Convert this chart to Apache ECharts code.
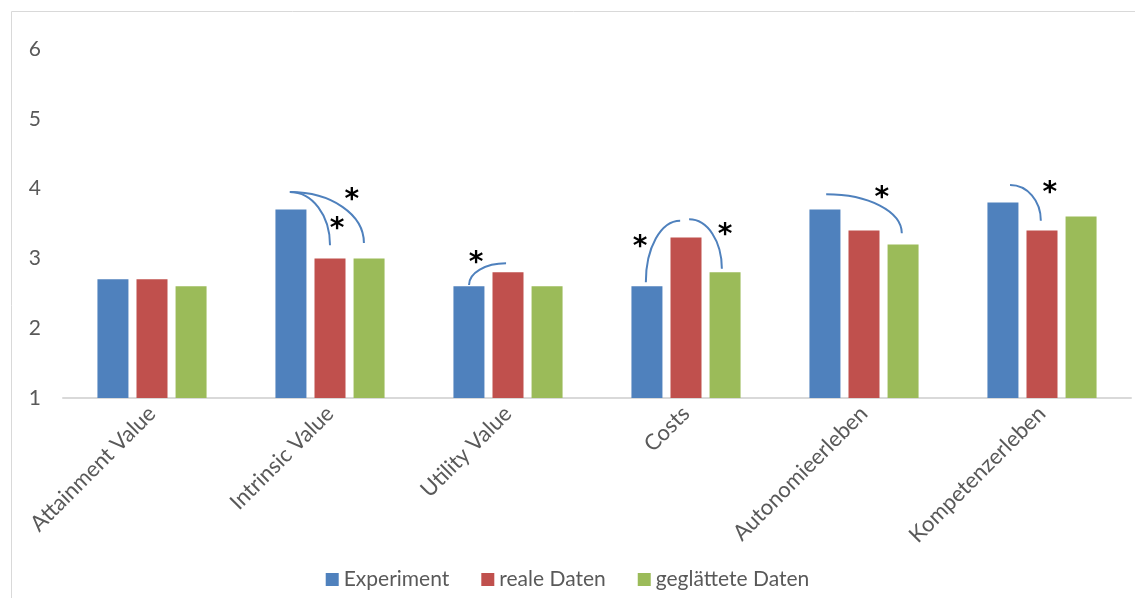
<!DOCTYPE html>
<html>
<head>
<meta charset="utf-8">
<script src="https://cdn.jsdelivr.net/npm/echarts@6/dist/echarts.min.js"></script>
<style>
html,body{margin:0;padding:0;background:#fff;}
#chart{width:1135px;height:598px;}
</style>
</head>
<body>
<div id="chart"></div>
<script>
// ---- data ----
const categories = ['Attainment Value', 'Intrinsic Value', 'Utility Value', 'Costs', 'Autonomieerleben', 'Kompetenzerleben'];
const experiment = [2.7, 3.7, 2.6, 2.6, 3.7, 3.8];
const realeDaten = [2.7, 3.0, 2.8, 3.3, 3.4, 3.4];
const geglaettet = [2.6, 3.0, 2.6, 2.8, 3.2, 3.6];
const yTicks = [1, 2, 3, 4, 5, 6];
const seriesNames = ['Experiment', 'reale Daten', 'geglättete Daten'];
// significance arcs: [category, startSlot, startValue, cornerSlot, cornerValue, endSlot, endValue]
// slot: -1 = Experiment bar, 0 = reale Daten bar, 1 = geglättete Daten bar
const brackets = [
  [1, -1.03, 3.95, 0.0, 3.95, 0.0, 3.19],
  [1, -1.03, 3.95, 0.87, 3.95, 0.87, 3.22],
  [2, -1.0, 2.62, -1.0, 2.93, -0.05, 2.93],
  [3, -1.03, 2.66, -1.03, 3.54, -0.15, 3.54],
  [3, 0.08, 3.56, 0.92, 3.56, 0.92, 2.85],
  [4, -0.97, 3.92, 0.97, 3.92, 0.97, 3.36],
  [5, -0.82, 4.05, -0.03, 4.05, -0.03, 3.54]
];
// asterisks: [category, slot, value]
const stars = [
  [1, 0.18, 3.51],
  [1, 0.56, 3.93],
  [2, -0.82, 3.02],
  [3, -1.18, 3.26],
  [3, 1.0, 3.42],
  [4, 0.46, 3.95],
  [5, 0.2, 4.02]
];

const colors = ['#4F81BD', '#C0504D', '#9BBB59'];
const SLOT = 0.219; // bar pitch as fraction of category band
const FONT = 'Lato, "Open Sans", sans-serif';

const chart = echarts.init(document.getElementById('chart'), null, {renderer: 'canvas'});

function slotPoint(api, cat, slot, v) {
  const c = api.coord([cat, v]);
  const band = api.size([1, 0])[0];
  return [c[0] + slot * SLOT * band, c[1]];
}

const option = {
  animation: false,
  color: colors,
  graphic: [{
    type: 'rect', left: 9, top: 9, z: -10,
    shape: {width: 1200, height: 700},
    style: {fill: 'none', stroke: '#d9d9d9', lineWidth: 1}
  }],
  grid: {left: 63, width: 1068, top: 49, height: 349, containLabel: false},
  legend: {
    data: seriesNames,
    bottom: 3,
    left: 'center',
    itemWidth: 13, itemHeight: 13, itemGap: 32,
    icon: 'rect',
    textStyle: {fontFamily: FONT, fontSize: 21, color: '#595959'}
  },
  xAxis: {
    type: 'category',
    data: categories,
    axisLine: {lineStyle: {color: '#d9d9d9', width: 2}},
    axisTick: {show: false},
    axisLabel: {rotate: 45, margin: 12, fontFamily: FONT, fontSize: 22, color: '#595959', interval: 0}
  },
  yAxis: {
    type: 'value',
    min: yTicks[0], max: yTicks[yTicks.length - 1], interval: 1,
    axisLine: {show: false}, axisTick: {show: false},
    splitLine: {show: false},
    axisLabel: {margin: 22, fontFamily: FONT, fontSize: 21, color: '#595959'}
  },
  series: [
    {name: seriesNames[0], type: 'bar', data: experiment, barWidth: 31, barGap: '26%'},
    {name: seriesNames[1], type: 'bar', data: realeDaten, barWidth: 31, barGap: '26%'},
    {name: seriesNames[2], type: 'bar', data: geglaettet, barWidth: 31, barGap: '26%'},
    {
      type: 'custom', name: 'arcs', silent: true, z: 5,
      data: brackets,
      encode: {x: 0, y: 2},
      renderItem: function (params, api) {
        const cat = api.value(0);
        const p0 = slotPoint(api, cat, api.value(1), api.value(2));
        const pc = slotPoint(api, cat, api.value(3), api.value(4));
        const p3 = slotPoint(api, cat, api.value(5), api.value(6));
        const k = 0.56;
        return {
          type: 'bezierCurve',
          shape: {
            x1: p0[0], y1: p0[1], x2: p3[0], y2: p3[1],
            cpx1: p0[0] + k * (pc[0] - p0[0]), cpy1: p0[1] + k * (pc[1] - p0[1]),
            cpx2: p3[0] + k * (pc[0] - p3[0]), cpy2: p3[1] + k * (pc[1] - p3[1])
          },
          style: {stroke: '#4F81BD', lineWidth: 2, fill: null}
        };
      }
    },
    {
      type: 'custom', name: 'stars', silent: true, z: 6,
      data: stars,
      encode: {x: 0, y: 2},
      renderItem: function (params, api) {
        const p = slotPoint(api, api.value(0), api.value(1), api.value(2));
        return {
          type: 'text',
          x: p[0], y: p[1] + 7,
          style: {text: '*', fill: '#000', font: 'bold 28px "DejaVu Sans"', align: 'center', verticalAlign: 'middle'}
        };
      }
    }
  ]
};
chart.setOption(option);
</script>
</body>
</html>
